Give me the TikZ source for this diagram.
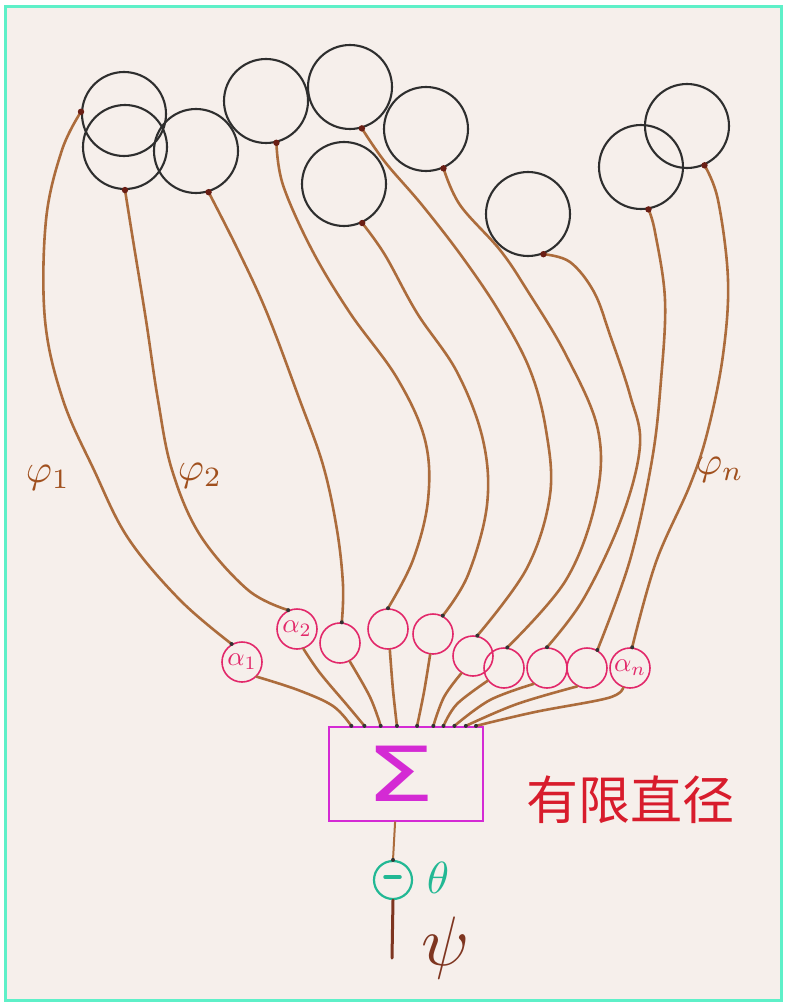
\documentclass[tikz,border=0pt]{standalone}
\usepackage{fontspec}
\newfontfamily\cjkfont{Noto Sans CJK SC}
\newfontfamily\dvfont{DejaVu Sans}
\usetikzlibrary{calc}
\definecolor{paper}{HTML}{F6EFEB}
\definecolor{framec}{HTML}{5EF0C8}
\definecolor{wirec}{HTML}{AC6C3C}
\definecolor{topc}{HTML}{2E2E2E}
\definecolor{alph}{HTML}{E2286A}
\definecolor{mag}{HTML}{D42AD4}
\definecolor{tealc}{HTML}{22B894}
\definecolor{cred}{HTML}{D81C2C}
\definecolor{labc}{HTML}{A0501E}
\definecolor{dotc}{HTML}{6A1E14}
\begin{document}
\begin{tikzpicture}[x=1pt,y=-1pt,
  topcirc/.style={circle,draw=topc,line width=2.1pt,minimum size=84pt,inner sep=0pt},
  acirc/.style={circle,draw=alph,line width=1.6pt,minimum size=40pt,inner sep=0pt,text=alph},
  wirepath/.style={draw=wirec,line width=2.6pt,line cap=round,line join=round},
  sdot/.style={fill=dotc},
  bdot/.style={fill=black!80},
  lab/.style={text=labc,inner sep=0pt}]
\path[use as bounding box,fill=white] (0,0) rectangle (786,1003);
\draw[fill=paper,draw=framec,line width=3pt] (5,7) rectangle (781,1000);

% top circles
\node[topcirc] (A) at (124,114) {};
\node[topcirc] (B) at (125,147) {};
\node[topcirc] (C) at (196,151) {};
\node[topcirc] (D) at (266,101) {};
\node[topcirc] (E) at (350,87) {};
\node[topcirc] (F) at (344,184) {};
\node[topcirc] (G) at (426,129) {};
\node[topcirc] (H) at (528,214) {};
\node[topcirc] (I) at (641,167) {};
\node[topcirc] (J) at (687,126) {};

% alpha circles
\node[acirc] (a1) at (242,662) {\scalebox{2.7}{$\alpha_1$}};
\node[acirc] (a2) at (297,629) {\scalebox{2.7}{$\alpha_2$}};
\node[acirc] (c3) at (340,643) {};
\node[acirc] (c4) at (388,629) {};
\node[acirc] (c5) at (433,634) {};
\node[acirc] (c6) at (473,656) {};
\node[acirc] (c7) at (504,668) {};
\node[acirc] (c8) at (547,668) {};
\node[acirc] (c9) at (587,668) {};
\node[acirc] (an) at (630,668) {\scalebox{2.7}{$\alpha_n$}};

% sum box
\node[draw=mag,line width=2.2pt,minimum width=154pt,minimum height=94pt,inner sep=0pt,text=mag] (box) at (406,774)
  {\hspace*{-12pt}\scalebox{1.45}[1.0]{\dvfont\fontsize{76}{76}\selectfont Σ}};
\foreach \i/\f in {1/0.15,2/0.234,3/0.338,4/0.442,5/0.571,6/0.675,7/0.74,8/0.81,9/0.883,10/0.948}
  \coordinate (s\i) at ($(box.north west)!\f!(box.north east)$);
\coordinate (bo) at ($(box.south west)!0.43!(box.south east)$);

% theta unit
\node[circle,draw=tealc,line width=2.2pt,minimum size=38pt,inner sep=0pt] (th) at (393,880) {};
\draw[tealc,line width=3.5pt,line cap=round] ($(th.center)+(-8,-3)$) -- ($(th.center)+(7,-3)$);
\node[text=tealc,inner sep=0pt] (thl) at (438,878) {\scalebox{4.5}{$\theta$}};
\coordinate (out) at (392,958);
\node[text=dotc!70!wirec,inner sep=0pt] (psi) at (446,948) {\scalebox{7}{$\psi$}};

% upper wires
\draw[wirepath] plot[smooth,tension=0.6] coordinates {(A.177) (62,150) (46,220) (45,320) (63,400) (94,470) (128,538) (180,600) (a1.120)};
\draw[wirepath] plot[smooth,tension=0.6] coordinates {(B.270) (133,240) (146,320) (158,400) (172,470) (200,535) (248,590) (a2.115)};
\draw[wirepath] plot[smooth,tension=0.6] coordinates {(C.287) (238,250) (267,313) (299,398) (323,465) (337,530) (343,585) (c3.85)};
\draw[wirepath] plot[smooth,tension=0.6] coordinates {(D.284) (283,185) (312,250) (350,313) (397,378) (425,440) (428,500) (413,560) (c4.90)};
\draw[wirepath] plot[smooth,tension=0.6] coordinates {(F.295) (385,255) (417,313) (457,372) (483,440) (487,505) (468,575) (c5.62)};
\draw[wirepath] plot[smooth,tension=0.6] coordinates {(E.286) (385,162) (422,205) (463,258) (500,313) (530,370) (546,430) (550,495) (527,568) (c6.78)};
\draw[wirepath] plot[smooth,tension=0.6] coordinates {(G.294) (460,205) (500,250) (527,290) (566,355) (598,430) (596,500) (566,580) (c7.81)};
\draw[wirepath] plot[smooth,tension=0.6] coordinates {(H.291) (570,262) (594,292) (610,335) (630,395) (640,445) (622,517) (584,598) (c8.90)};
\draw[wirepath] plot[smooth,tension=0.6] coordinates {(I.280) (655,232) (665,300) (661,380) (652,460) (630,560) (c9.60)};
\draw[wirepath] plot[smooth,tension=0.6] coordinates {(J.294) (718,200) (728,280) (723,355) (708,430) (690,485) (656,562) (an.84)};

% lower wires
\draw[wirepath] plot[smooth,tension=0.6] coordinates {(a1.315) (298,690) (333,706) (s1)};
\draw[wirepath] plot[smooth,tension=0.6] coordinates {(a2.288) (320,673) (347,705) (s2)};
\draw[wirepath] plot[smooth,tension=0.6] coordinates {(c3.298) (370,697) (s3)};
\draw[wirepath] plot[smooth,tension=0.6] coordinates {(c4.275) (393,690) (s4)};
\draw[wirepath] plot[smooth,tension=0.6] coordinates {(c5.262) (424,692) (s5)};
\draw[wirepath] plot[smooth,tension=0.6] coordinates {(c6.236) (444,697) (s6)};
\draw[wirepath] plot[smooth,tension=0.6] coordinates {(c7.218) (457,704) (s7)};
\draw[wirepath] plot[smooth,tension=0.6] coordinates {(c8.230) (490,700) (s8)};
\draw[wirepath] plot[smooth,tension=0.6] coordinates {(c9.242) (517,704) (s9)};
\draw[wirepath] plot[smooth,tension=0.6] coordinates {(an.251) (608,698) (535,712) (s10)};

% output
\draw[wirepath,line width=2pt] (bo) -- (th.north);
\draw[draw=dotc!70!wirec,line width=3pt,line cap=round] (th.south) -- (out);

% dots
\foreach \p in {A.177,B.270,C.287,D.284,E.286,F.295,G.294,H.291,I.280,J.294}
  \fill[sdot] (\p) circle (3.2pt);
\foreach \p in {a1.120,a2.115,c3.85,c4.90,c5.62,c6.78,c7.81,c8.90,c9.60,an.84,s1,s2,s3,s4,s5,s6,s7,s8,s9,s10,th.north}
  \fill[bdot] (\p) circle (2pt);

% labels
\node[lab] (p1) at (48,478) {\scalebox{4}{$\varphi_1$}};
\node[lab] (p2) at (200,476) {\scalebox{4}{$\varphi_2$}};
\node[lab] (pn) at (720,470) {\scalebox{4}{$\varphi_n$}};
\node[text=cred,inner sep=0pt,font=\cjkfont\fontsize{52}{52}\selectfont] (fd) at (630,800) {有限直径};
\end{tikzpicture}
\end{document}
